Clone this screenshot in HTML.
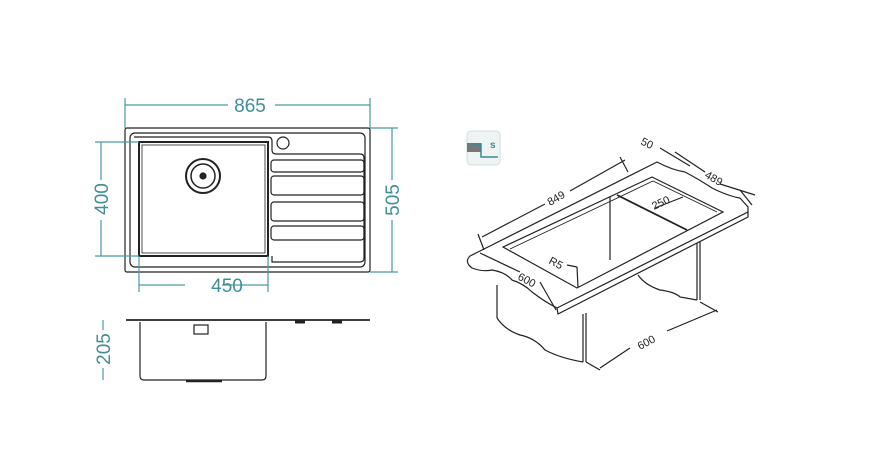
<!DOCTYPE html>
<html><head><meta charset="utf-8"><style>
html,body{margin:0;padding:0;background:#fff;}
svg{display:block;}
text{font-family:"Liberation Sans",sans-serif;}
</style></head><body>
<svg width="869" height="476" viewBox="0 0 869 476" xmlns="http://www.w3.org/2000/svg">
<g fill="none" stroke="#222" stroke-width="1.2">
 <!-- top view -->
 <rect x="125" y="128" width="245" height="144" rx="2"/>
 <rect x="130" y="133" width="235" height="134" rx="5"/>
 <path d="M134 137 H268 Q272 137 272 141 V150 Q272 154 276 154 H360 Q364 154 364 158 V258 Q364 262 360 262 H272 V256"/>
 <rect x="139" y="142" width="129" height="114" stroke-width="2"/>
 <rect x="142" y="145" width="123" height="108" stroke-width="0.8"/>
 <circle cx="203" cy="176" r="17" stroke-width="2"/>
 <circle cx="203" cy="176" r="12" stroke-width="1.5"/>
 <circle cx="203" cy="176" r="3" fill="#222"/>
 <circle cx="283" cy="143" r="6"/>
 <rect x="271" y="160" width="93" height="12" rx="3"/>
 <rect x="271" y="176" width="93" height="19" rx="3"/>
 <rect x="271" y="202" width="93" height="19" rx="3"/>
 <rect x="271" y="226" width="93" height="14" rx="3"/>
 <!-- side view -->
 <line x1="126" y1="320" x2="370" y2="320" stroke-width="1.8"/>
 <path d="M140 322 V376 Q140 380 144 380 H262 Q266 380 266 376 V322"/>
 <rect x="194" y="325" width="14" height="9"/>
 <line x1="186" y1="381" x2="222" y2="381" stroke-width="2.5"/>
 <line x1="295" y1="322" x2="305" y2="322" stroke-width="3"/>
 <line x1="332" y1="322" x2="342" y2="322" stroke-width="3"/>
</g>
<g stroke="#4a9aa0" stroke-width="1.2" fill="none">
 <line x1="125" y1="105" x2="228" y2="105"/><line x1="275" y1="105" x2="370" y2="105"/>
 <line x1="125" y1="98" x2="125" y2="128"/><line x1="370" y1="98" x2="370" y2="128"/>
 <line x1="101" y1="142" x2="101" y2="180"/><line x1="101" y1="220" x2="101" y2="256"/>
 <line x1="95" y1="142" x2="139" y2="142"/><line x1="95" y1="256" x2="139" y2="256"/>
 <line x1="392" y1="128" x2="392" y2="180"/><line x1="392" y1="220" x2="392" y2="272"/>
 <line x1="370" y1="128" x2="398" y2="128"/><line x1="370" y1="272" x2="398" y2="272"/>
 <line x1="139" y1="285" x2="185" y2="285"/><line x1="222" y1="285" x2="268" y2="285"/>
 <line x1="139" y1="256" x2="139" y2="292"/><line x1="268" y1="256" x2="268" y2="292"/>
 <line x1="103" y1="320" x2="103" y2="330"/><line x1="103" y1="368" x2="103" y2="380"/>
</g>
<g fill="#3f8f96" font-size="19">
 <text x="250" y="112" text-anchor="middle">865</text>
 <text x="227" y="292" text-anchor="middle">450</text>
 <text transform="translate(108,199) rotate(-90)" text-anchor="middle">400</text>
 <text transform="translate(399,200) rotate(-90)" text-anchor="middle">505</text>
 <text transform="translate(110,349) rotate(-90)" text-anchor="middle">205</text>
</g>
<!-- icon -->
<rect x="467" y="131" width="33" height="34" rx="4" fill="#eef4f4" stroke="#cfdede"/>
<rect x="467" y="143" width="14" height="9" fill="#777"/>
<path d="M469 144 H481 V157 H498" stroke="#3a8a90" stroke-width="1.5" fill="none"/>
<text x="490" y="148" font-size="10" font-weight="bold" fill="#3a8a90">s</text>
<!-- iso view -->
<g fill="none" stroke="#222" stroke-width="1.2">
 <!-- countertop back edge and wavy -->
 <path d="M470,256 L482,250 L657,162 Q672,170 685,172 Q700,180 712,188 Q728,196 740,198 L748,207 L748,212"/>
 <!-- front wavy edge -->
 <path d="M470,256 Q464,262 472,268 Q482,272 492,270 Q505,272 512,280 Q524,284 532,292 Q545,302 557,308"/>
 <!-- front slab -->
 <polyline points="557,308 748,212 748,217 558,314 557,308"/>
 <!-- cutout -->
 <polygon points="503,247 652,177 723,212 577,288"/>
 <polyline points="510,249 653,181 717,212" stroke-width="0.9"/>
 <!-- bowl -->
 <line x1="610" y1="197" x2="610" y2="260"/>
 <line x1="617" y1="195" x2="687" y2="230" stroke-width="1.8"/>
 <!-- cabinet -->
 <line x1="497" y1="285" x2="497" y2="318"/>
 <path d="M497,318 Q505,330 520,335 Q535,338 545,350 Q560,358 583,362"/>
 <line x1="583" y1="314" x2="583" y2="362"/><line x1="586" y1="313" x2="586" y2="362"/>
 <line x1="697" y1="243" x2="697" y2="300"/><line x1="700" y1="242" x2="700" y2="300"/>
 <path d="M638,275 Q645,285 660,290 Q675,292 680,297 L697,300"/>
 <!-- dimension lines -->
 <line x1="482" y1="237" x2="545" y2="204"/><line x1="570" y1="191" x2="625" y2="160"/>
 <line x1="478" y1="234" x2="484" y2="250"/><line x1="620" y1="157" x2="628" y2="172"/>
 <line x1="660" y1="148" x2="690" y2="166"/><line x1="675" y1="152" x2="705" y2="172"/>
 <line x1="720" y1="184" x2="755" y2="195"/><line x1="740" y1="190" x2="752" y2="205"/>
 <line x1="655" y1="208" x2="683" y2="197"/>
 <line x1="480" y1="253" x2="520" y2="272"/><line x1="540" y1="282" x2="556" y2="310"/>
 <line x1="567" y1="265" x2="577" y2="267"/><line x1="577" y1="267" x2="578" y2="287"/>
 <line x1="600" y1="368" x2="630" y2="348"/><line x1="667" y1="331" x2="717" y2="310"/>
 <line x1="700" y1="302" x2="718" y2="312"/><line x1="586" y1="362" x2="600" y2="370"/>
</g>
<g fill="#222" font-size="11">
 <text transform="translate(550,206) rotate(-30)">849</text>
 <text transform="translate(640,144) rotate(25)">50</text>
 <text transform="translate(704,177) rotate(30)">489</text>
 <text transform="translate(654,210) rotate(-25)">250</text>
 <text transform="translate(548,263) rotate(28)">R5</text>
 <text transform="translate(517,279) rotate(28)">600</text>
 <text transform="translate(640,350) rotate(-28)">600</text>
</g>
</svg>
</body></html>
